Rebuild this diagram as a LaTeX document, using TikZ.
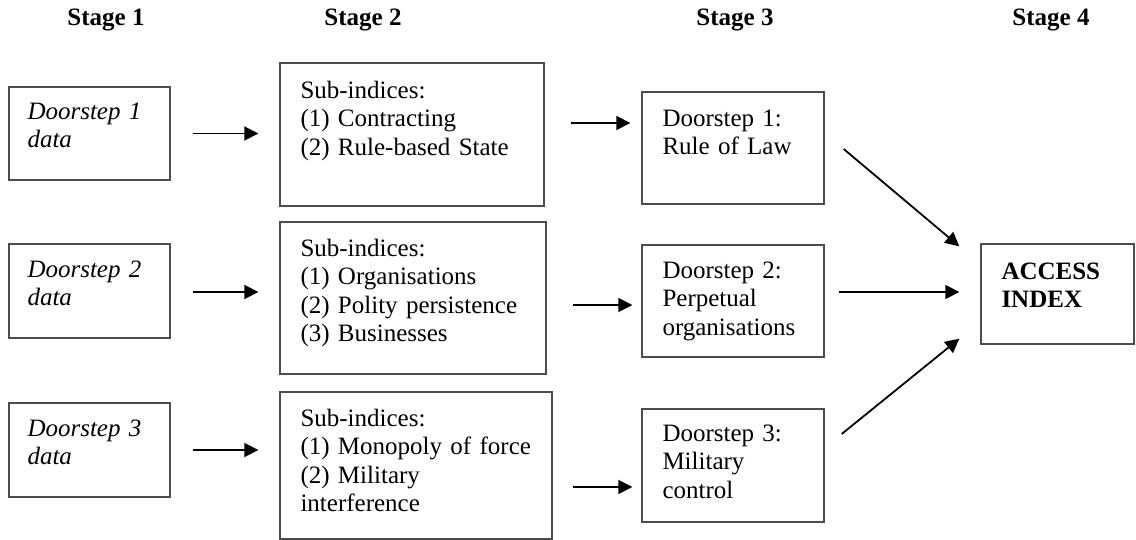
\documentclass[tikz,border=0pt]{standalone}
\usepackage{fontspec}
\setmainfont{Liberation Serif}
\usetikzlibrary{arrows.meta}

\begin{document}
\begin{tikzpicture}[x=1pt,y=-1pt,
		box/.style={draw=black!70,line width=1.4pt,inner sep=0pt},
		txt/.style={anchor=base west,inner sep=0pt,text width=250pt,align=left,
			font=\fontsize{25}{28.5}\selectfont},
		stagelbl/.style={anchor=base,inner sep=0pt,font=\fontsize{25}{28.5}\selectfont\bfseries},
		arr/.style={line width=1.8pt,-{Triangle[length=14pt,width=14pt]}}]
		\useasboundingbox (0,0) rectangle (1136,540);
		
		%stage headings
		\node[stagelbl] (st1) at (106,26) {Stage 1};
		\node[stagelbl] (st2) at (363,26) {Stage 2};
		\node[stagelbl] (st3) at (735,26) {Stage 3};
		\node[stagelbl] (st4) at (1051,26) {Stage 4};
		
		%stage 1 boxes
		\node[box,minimum width=161pt,minimum height=93pt] (d1) at (89.5,133.5) {};
		\node[box,minimum width=161pt,minimum height=94pt] (d2) at (89.5,291) {};
		\node[box,minimum width=161pt,minimum height=94pt] (d3) at (89.5,450) {};
		\node[txt] (d1t) at ([shift={(19,33)}]d1.north west) {\textit{Doorstep 1}\\\textit{data}};
		\node[txt] (d2t) at ([shift={(19,34)}]d2.north west) {\textit{Doorstep 2}\\\textit{data}};
		\node[txt] (d3t) at ([shift={(19,34)}]d3.north west) {\textit{Doorstep 3}\\\textit{data}};
		
		%stage 2 boxes
		\node[box,minimum width=264pt,minimum height=143pt] (s1) at (412,134.5) {};
		\node[box,minimum width=266pt,minimum height=152pt] (s2) at (413,298) {};
		\node[box,minimum width=272pt,minimum height=147pt] (s3) at (416,465.5) {};
		\node[txt] (s1t) at ([shift={(21,36)}]s1.north west) {Sub-indices:\\(1) Contracting\\(2) Rule-based State};
		\node[txt] (s2t) at ([shift={(21,35)}]s2.north west) {Sub-indices:\\(1) Organisations\\(2) Polity persistence\\(3) Businesses};
		\node[txt] (s3t) at ([shift={(21,35)}]s3.north west) {Sub-indices:\\(1) Monopoly of force\\(2) Military\\interference};
		
		%stage 3 boxes
		\node[box,minimum width=182pt,minimum height=112pt] (p1) at (733,148) {};
		\node[box,minimum width=182pt,minimum height=112pt] (p2) at (733,301) {};
		\node[box,minimum width=182pt,minimum height=113pt] (p3) at (733,465.5) {};
		\node[txt] (p1t) at ([shift={(21,35)}]p1.north west) {Doorstep 1:\\Rule of Law};
		\node[txt] (p2t) at ([shift={(21,34)}]p2.north west) {Doorstep 2:\\Perpetual\\organisations};
		\node[txt] (p3t) at ([shift={(21,33)}]p3.north west) {Doorstep 3:\\Military\\control};
		
		%stage 4 box
		\node[box,minimum width=153pt,minimum height=100pt] (acc) at (1057.5,294) {};
		\node[txt] (acct) at ([shift={(21,36)}]acc.north west) {\textbf{ACCESS}\\\textbf{INDEX}};
		
		%arrows
		\draw[arr] ([shift={(22,0)}]d1.east) -- ([shift={(-21,-1)}]s1.west);
		\draw[arr] ([shift={(22,1)}]d2.east) -- ([shift={(-21,-6)}]s2.west);
		\draw[arr] ([shift={(22,0)}]d3.east) -- ([shift={(-21,-15.5)}]s3.west);
		
		\draw[arr] ([shift={(26,-11.5)}]s1.east) -- ([shift={(-11,-25)}]p1.west);
		\draw[arr] ([shift={(26,7)}]s2.east) -- ([shift={(-9,4)}]p2.west);
		\draw[arr] ([shift={(20,21.5)}]s3.east) -- ([shift={(-9,21.5)}]p3.west);
		
		\draw[arr] ([shift={(19,1)}]p1.east) -- ([shift={(-21,3)}]acc.north west);
		\draw[arr] ([shift={(14,-9)}]p2.east) -- ([shift={(-21,-2)}]acc.west);
		\draw[arr] ([shift={(17,-31.5)}]p3.east) -- ([shift={(-21,-6)}]acc.south west);
	
\end{tikzpicture}
\end{document}
